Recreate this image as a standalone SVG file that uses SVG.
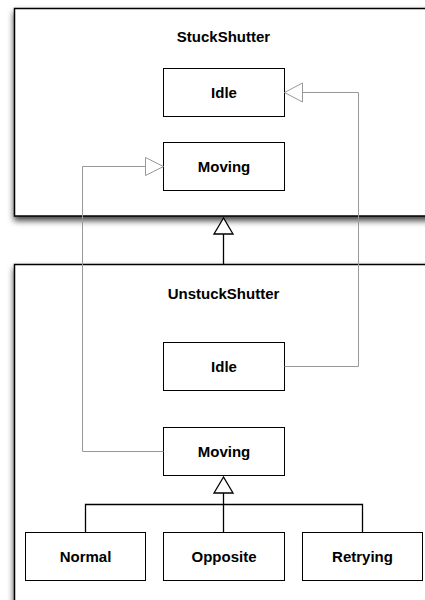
<svg xmlns="http://www.w3.org/2000/svg" width="425" height="600" viewBox="0 0 425 600">
<defs>
<filter id="sh" x="-10%" y="-10%" width="120%" height="130%">
<feDropShadow dx="0" dy="4" stdDeviation="3" flood-color="#000" flood-opacity="0.75"/>
</filter>
<style>
.cont{fill:#fff;stroke:#000;stroke-width:1.5}
.box{fill:#fff;stroke:#000;stroke-width:1}
.t{font-family:"Liberation Sans",Arial,sans-serif;font-weight:bold;font-size:15px;text-anchor:middle;fill:#000}
.g{fill:none;stroke:#999;stroke-width:1}
.gh{fill:#fff;stroke:#999;stroke-width:1}
.k{fill:none;stroke:#000;stroke-width:1.3}
.kh{fill:#fff;stroke:#000;stroke-width:1.3}
</style>
</defs>
<g id="StuckShutter">
<rect class="cont" x="14.5" y="8.5" width="420" height="207.5" filter="url(#sh)"/>
<text class="t" x="223.5" y="42">StuckShutter</text>
</g>
<g id="UnstuckShutter">
<rect class="cont" x="14.5" y="264.5" width="420" height="350" filter="url(#sh)"/>
<text class="t" x="223.5" y="298.5">UnstuckShutter</text>
</g>
<g id="S_Idle"><rect class="box" x="163.5" y="68.5" width="121" height="48"/><text class="t" x="224" y="97.5">Idle</text></g>
<g id="S_Moving"><rect class="box" x="163.5" y="142.5" width="121" height="48"/><text class="t" x="224" y="171.5">Moving</text></g>
<g id="U_Idle"><rect class="box" x="163.5" y="342.5" width="121" height="48"/><text class="t" x="224" y="371.5">Idle</text></g>
<g id="U_Moving"><rect class="box" x="163.5" y="427.5" width="121" height="48"/><text class="t" x="224" y="456.5">Moving</text></g>
<g id="Normal"><rect class="box" x="25.5" y="532.5" width="120" height="48"/><text class="t" x="85.5" y="561.5">Normal</text></g>
<g id="Opposite"><rect class="box" x="163.5" y="532.5" width="121" height="48"/><text class="t" x="224" y="561.5">Opposite</text></g>
<g id="Retrying"><rect class="box" x="302.5" y="532.5" width="120" height="48"/><text class="t" x="362.5" y="561.5">Retrying</text></g>
<g id="connectors">
<polyline class="g" points="284.5,366.5 358.5,366.5 358.5,92.5 302.5,92.5"/>
<polygon class="gh" points="284.5,92.5 302.5,83 302.5,102"/>
<polyline class="g" points="163.5,451.5 82.5,451.5 82.5,166.5 145.5,166.5"/>
<polygon class="gh" points="163.5,166.5 145.5,157.5 145.5,175.5"/>
<line class="k" x1="223.5" y1="234" x2="223.5" y2="264.5"/>
<polygon class="kh" points="223.5,218 214,234 233,234"/>
<polyline class="k" points="85.5,532.5 85.5,504.5 362.5,504.5 362.5,532.5"/>
<line class="k" x1="223.5" y1="493" x2="223.5" y2="532.5"/>
<polygon class="kh" points="223.5,477 214,493 233,493"/>
</g>
</svg>
